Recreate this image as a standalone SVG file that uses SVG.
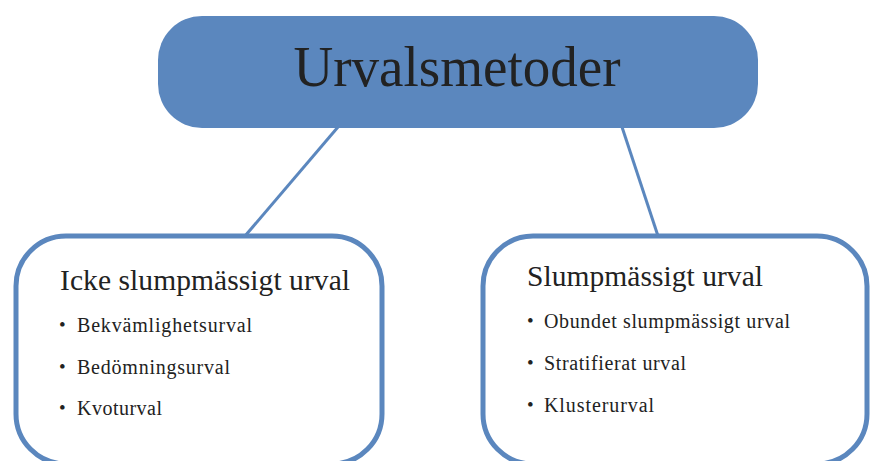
<svg xmlns="http://www.w3.org/2000/svg" width="871" height="461" viewBox="0 0 871 461">
<style>
.conn{stroke:#5b87be;stroke-width:3;fill:none}
.box{fill:#ffffff;stroke:#5b87be;stroke-width:5}
.t{font-family:"Liberation Serif","Times New Roman",serif;fill:#222222}
.h{font-size:29.5px}
.b{font-size:20px}
.d{font-size:19px}
</style>
<rect width="871" height="461" fill="#ffffff"/>
<g id="connectors">
<line class="conn" x1="338" y1="127" x2="245" y2="236"/>
<line class="conn" x1="622" y1="127" x2="658" y2="236"/>
</g>
<g id="root">
<rect x="158" y="16" width="600" height="112" rx="44" ry="44" fill="#5b87be"/>
<text class="t" x="457" y="86" font-size="57" text-anchor="middle" textLength="327" lengthAdjust="spacingAndGlyphs">Urvalsmetoder</text>
</g>
<g id="nonrandom">
<rect class="box" x="16" y="236" width="366" height="228" rx="50" ry="50"/>
<text class="t h" x="60" y="290" textLength="290" lengthAdjust="spacing">Icke slumpmässigt urval</text>
<text class="t d" x="59" y="331">•</text><text class="t b" x="77" y="332" textLength="175" lengthAdjust="spacing">Bekvämlighetsurval</text>
<text class="t d" x="59" y="373">•</text><text class="t b" x="77" y="374" textLength="153" lengthAdjust="spacing">Bedömningsurval</text>
<text class="t d" x="59" y="414">•</text><text class="t b" x="77" y="415" textLength="85" lengthAdjust="spacing">Kvoturval</text>
</g>
<g id="random">
<rect class="box" x="483" y="236" width="384" height="228" rx="50" ry="50"/>
<text class="t h" x="527" y="286" textLength="236" lengthAdjust="spacing">Slumpmässigt urval</text>
<text class="t d" x="527" y="327">•</text><text class="t b" x="544" y="328" textLength="246" lengthAdjust="spacing">Obundet slumpmässigt urval</text>
<text class="t d" x="527" y="369">•</text><text class="t b" x="544" y="370" textLength="142" lengthAdjust="spacing">Stratifierat urval</text>
<text class="t d" x="527" y="411">•</text><text class="t b" x="544" y="412" textLength="110" lengthAdjust="spacing">Klusterurval</text>
</g>
</svg>
